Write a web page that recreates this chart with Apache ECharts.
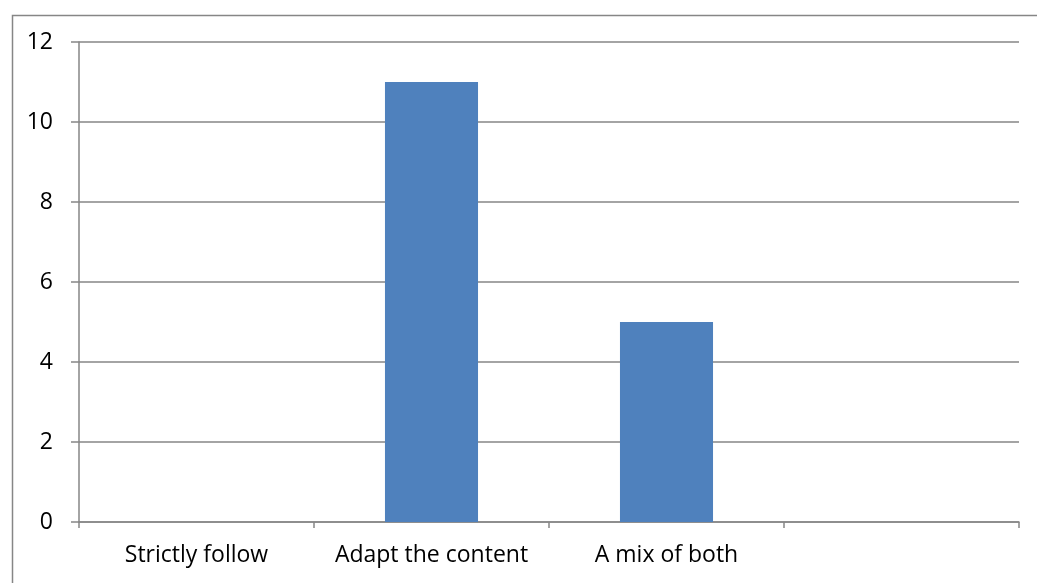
<!DOCTYPE html>
<html>
<head>
<meta charset="utf-8">
<style>
  html, body { margin: 0; padding: 0; background: #ffffff; }
  #chart { width: 1037px; height: 583px; }
</style>
<script src="https://cdn.jsdelivr.net/npm/echarts@6/dist/echarts.min.js"></script>
</head>
<body>
<div id="chart"></div>
<script>
// Response counts per approach
const categories = ['Strictly follow', 'Adapt the content', 'A mix of both', ''];
const counts = [0, 11, 5, null];
const yTicks = { min: 0, max: 12, interval: 2 };

const axisGray = '#868686';
const fontFamily = '"Open Sans", sans-serif';

const chart = echarts.init(document.getElementById('chart'), null, { renderer: 'canvas' });
chart.setOption({
  animation: false,
  backgroundColor: '#ffffff',
  graphic: [{
    type: 'rect',
    left: 10, top: 13,
    shape: { width: 1100, height: 700 },
    style: { fill: 'none', stroke: axisGray, lineWidth: 1.5 },
    silent: true
  }],
  grid: { left: 79, right: 18, top: 42, bottom: 61 },
  xAxis: {
    type: 'category',
    data: categories,
    boundaryGap: true,
    axisLine: { show: true, lineStyle: { color: axisGray, width: 1.5 } },
    axisTick: { show: true, length: 6, lineStyle: { color: axisGray, width: 1.5 } },
    axisLabel: { color: '#000000', fontSize: 23, fontFamily: fontFamily, margin: 22, interval: 0 },
    splitLine: { show: false }
  },
  yAxis: {
    type: 'value',
    min: yTicks.min, max: yTicks.max, interval: yTicks.interval,
    axisLine: { show: true, lineStyle: { color: axisGray, width: 1.5 } },
    axisTick: { show: true, inside: false, length: 8, lineStyle: { color: axisGray, width: 1.5 } },
    axisLabel: { color: '#000000', fontSize: 23, fontFamily: fontFamily, margin: 26 },
    splitLine: { show: true, lineStyle: { color: axisGray, width: 1.5 } }
  },
  series: [{
    type: 'bar',
    data: counts,
    barCategoryGap: '60.4%',
    itemStyle: { color: '#4f81bd' },
    silent: true
  }]
});
</script>
</body>
</html>
